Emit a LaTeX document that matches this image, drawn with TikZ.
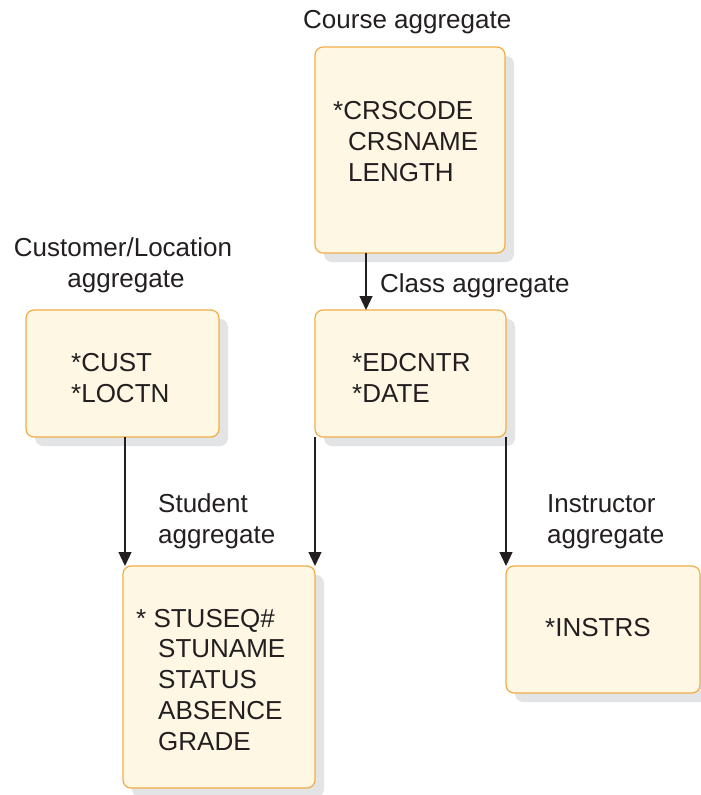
\documentclass[tikz,border=0pt]{standalone}
\usepackage{fontspec}
\setmainfont{Liberation Sans}
\usetikzlibrary{arrows.meta,shadows}
\definecolor{aggfill}{HTML}{FDF7E4}
\definecolor{aggline}{HTML}{F2AC45}
\definecolor{aggshadow}{HTML}{E3E4E6}
\definecolor{ink}{HTML}{231F20}
\begin{document}
\begin{tikzpicture}[x=1pt,y=-1pt,
	agg/.style={draw=aggline,fill=aggfill,line width=1.2pt,rounded corners=8pt,anchor=north west,inner sep=0pt,outer sep=0pt,
		drop shadow={shadow xshift=9pt,shadow yshift=-9pt,fill=aggshadow,opacity=1}},
	txt/.style={anchor=base west,inner sep=0pt,text=ink,font=\fontsize{26}{31}\selectfont},
	arr/.style={draw=ink,line width=1.3pt,-{Triangle[length=14pt,width=13pt]}}]

	\useasboundingbox (0,0) rectangle (701,795);

	\node[agg,minimum width=190pt,minimum height=206pt] (course) at (315,47) {};
	\node[agg,minimum width=191pt,minimum height=127pt] (class) at (315,310) {};
	\node[agg,minimum width=193pt,minimum height=127pt] (cust) at (26,310) {};
	\node[agg,minimum width=192pt,minimum height=222pt] (student) at (123,566) {};
	\node[agg,minimum width=194pt,minimum height=127pt] (instr) at (506,566) {};

	\draw[arr] ([xshift=51pt]course.south west) -- ([xshift=51pt]class.north west);
	\draw[arr] ([xshift=2pt]student.north west |- cust.south) -- ([xshift=2pt]student.north west);
	\draw[arr] (class.south west) -- (class.south west |- student.north);
	\draw[arr] (class.south east) -- (class.south east |- instr.north);

	\node[txt] (lcourse) at (303,28) {Course aggregate};

	\node[txt,anchor=base] (lcust) at (123,256) {Customer/Location};
	\node[txt,anchor=base] (lcust2) at (126,287) {aggregate};

	\node[txt] (lclass) at (380,292) {Class aggregate};

	\node[txt] (lstudent) at (158,512) {Student};
	\node[txt] (lstudent2) at (158,543) {aggregate};

	\node[txt] (linstr) at (547,512) {Instructor};
	\node[txt] (linstr2) at (547,543) {aggregate};

	\node[txt] (crscode) at (333,119) {*CRSCODE};
	\node[txt] (crsname) at (348,150) {CRSNAME};
	\node[txt] (length) at (348,181) {LENGTH};

	\node[txt] (custno) at (71,371) {*CUST};
	\node[txt] (loctn) at (71,402) {*LOCTN};

	\node[txt] (edcntr) at (352,371) {*EDCNTR};
	\node[txt] (date) at (352,402) {*DATE};

	\node[txt] (stuseq) at (136,627) {* STUSEQ\#};
	\node[txt] (stuname) at (158,657) {STUNAME};
	\node[txt] (status) at (158,688) {STATUS};
	\node[txt] (absence) at (158,719) {ABSENCE};
	\node[txt] (grade) at (158,750) {GRADE};

	\node[txt] (instrs) at (545,636) {*INSTRS};
\end{tikzpicture}
\end{document}
